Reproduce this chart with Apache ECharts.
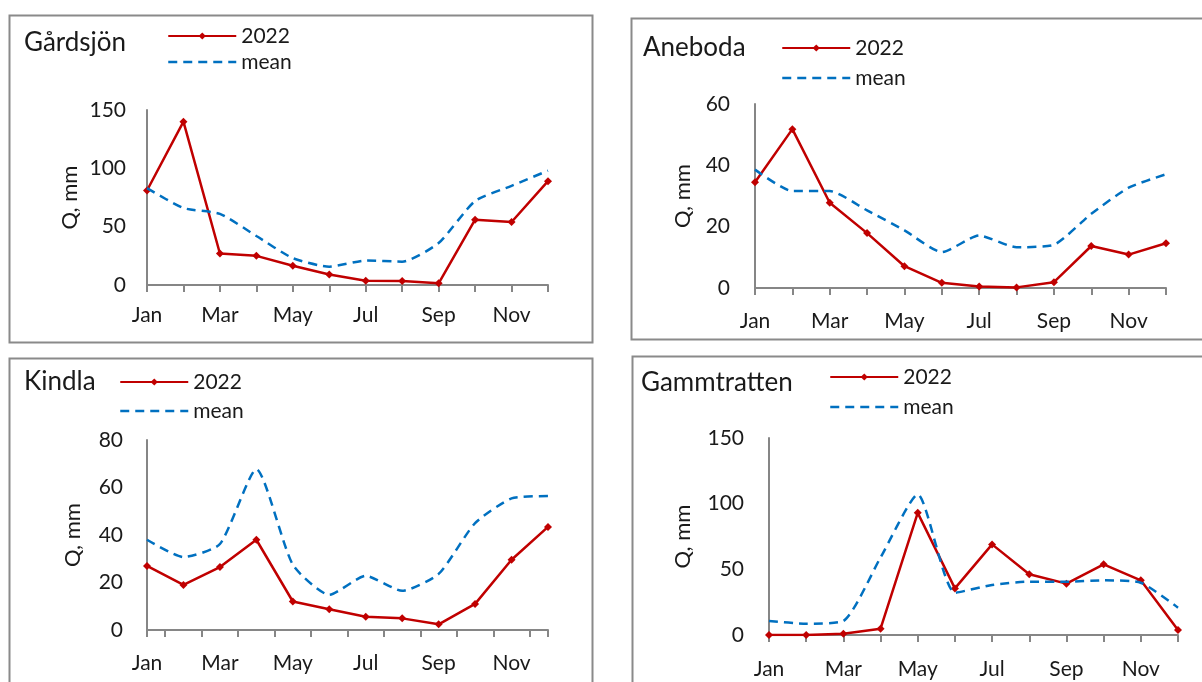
<!DOCTYPE html>
<html>
<head>
<meta charset="utf-8">
<script src="https://cdn.jsdelivr.net/npm/echarts@6/dist/echarts.min.js"></script>
<style>
html,body{margin:0;padding:0;background:#fff;}
#chart{width:1202px;height:682px;}
</style>
</head>
<body>
<div id="chart"></div>
<script>
// ---------- DATA ----------
const months = ['Jan','Feb','Mar','Apr','May','Jun','Jul','Aug','Sep','Oct','Nov','Dec'];
const siteNames = ['Gårdsjön','Aneboda','Kindla','Gammtratten'];
const seriesNames = ['2022','mean'];
const yAxisName = 'Q, mm';

const gardsjon2022 = [81, 140, 27, 25, 16.5, 9, 3.7, 3.4, 1.4, 56, 54, 89];
const gardsjonMean = [83, 66, 61, 42, 23, 15.7, 21, 20, 36, 72, 85, 98];

const aneboda2022 = [34.5, 51.8, 27.8, 17.9, 7.1, 1.7, 0.5, 0.2, 1.9, 13.7, 10.9, 14.6];
const anebodaMean = [38.6, 31.6, 31.6, 25.3, 18.8, 11.7, 17.1, 13.3, 14.1, 24.2, 32.7, 37.1];

const kindla2022 = [27, 19, 26.5, 38, 12, 8.7, 5.6, 4.9, 2.4, 11, 29.6, 43.4];
const kindlaMean = [38, 30.7, 36.2, 67.7, 27.5, 14.8, 22.8, 16.5, 23.6, 45, 55.4, 56.4];

const gammtratten2022 = [0, 0, 1, 4.8, 93, 35.5, 69, 46.2, 39.1, 53.8, 41.6, 3.8];
const gammtrattenMean = [10.7, 8.6, 10.7, 59, 107, 32.2, 38.1, 40.6, 40.6, 41.6, 39.8, 20.8];

const yMaxes = [150, 60, 80, 150];
const yIntervals = [50, 20, 20, 50];

// ---------- LAYOUT ----------
const FONT = 'Lato, "Liberation Sans", sans-serif';
const RED = '#C00000', BLUE = '#0070C0', AXIS = '#868686', TXT = '#1a1a1a';
const panels = [
  {box:[9.5,15.5,583,327], grid:{left:147,top:110,width:401,height:175}, title:[24,43], legend:[167,36,26], nameGap:66, labMargin:20, yLabMargin:21, midTicks:false,
   d:[gardsjon2022, gardsjonMean]},
  {box:[631.5,18.5,600,321], grid:{left:755,top:104,width:411,height:184}, title:[643,48], legend:[781,48,30], nameGap:61, labMargin:23, yLabMargin:25, midTicks:false,
   d:[aneboda2022, anebodaMean]},
  {box:[9.5,358.5,583,400], grid:{left:147,top:440,width:401,height:190}, title:[24,382], legend:[119,382,29], nameGap:63, labMargin:23, yLabMargin:24, midTicks:true,
   d:[kindla2022, kindlaMean]},
  {box:[632.5,356.5,600,400], grid:{left:769,top:438,width:409,height:197}, title:[641,383], legend:[829,377,30], nameGap:75, labMargin:24, yLabMargin:25, midTicks:false,
   d:[gammtratten2022, gammtrattenMean]}
];

const grids = [], xAxes = [], yAxes = [], series = [], legends = [], graphics = [];
const axisLineStyle = {color: AXIS, width: 2};

panels.forEach((p, i) => {
  grids.push(Object.assign({outerBoundsMode:'none', containLabel:false}, p.grid));
  xAxes.push({
    type:'category', gridIndex:i, data:months, boundaryGap:false,
    axisLine:{show:true, onZero:false, lineStyle:axisLineStyle},
    axisTick:{show:!p.midTicks, interval:0, length:7, lineStyle:axisLineStyle},
    axisLabel:{interval:1, margin:p.labMargin, fontSize:21, fontFamily:FONT, color:TXT},
    splitLine:{show:false}
  });
  yAxes.push({
    type:'value', gridIndex:i, min:0, max:yMaxes[i], interval:yIntervals[i],
    axisLine:{show:true, lineStyle:axisLineStyle},
    axisTick:{show:false}, splitLine:{show:false},
    axisLabel:{margin:p.yLabMargin, fontSize:21, fontFamily:FONT, color:TXT},
    name:yAxisName, nameLocation:'middle', nameGap:p.nameGap,
    nameTextStyle:{fontSize:22, fontFamily:FONT, color:TXT}
  });
  series.push({
    name:seriesNames[0], type:'line', xAxisIndex:i, yAxisIndex:i, data:p.d[0],
    symbol:'diamond', symbolSize:8, showSymbol:true,
    lineStyle:{color:RED, width:2.5}, itemStyle:{color:RED}, z:3, animation:false
  });
  series.push({
    name:seriesNames[1], type:'line', xAxisIndex:i, yAxisIndex:i, data:p.d[1],
    symbol:'none', smooth:0.2,
    lineStyle:{color:BLUE, width:2.5, type:[9,6]}, itemStyle:{color:BLUE}, z:4, animation:false
  });
  legends.push({
    orient:'vertical', left:p.legend[0], top:p.legend[1]-10.5, padding:0,
    itemWidth:68, itemHeight:9, itemGap:p.legend[2]-21,
    data:[{name:seriesNames[0]}, {name:seriesNames[1], itemStyle:{opacity:0}, lineStyle:{width:2.5, type:[9,6], color:BLUE}}],
    selectedMode:false,
    textStyle:{fontSize:21, fontFamily:FONT, color:TXT, lineHeight:21}
  });
  graphics.push({
    type:'rect', z:-1, silent:true,
    shape:{x:p.box[0], y:p.box[1], width:p.box[2], height:p.box[3]},
    style:{fill:'none', stroke:'#8a8a8a', lineWidth:2}
  });
  graphics.push({
    type:'text', silent:true, x:p.title[0], y:p.title[1],
    style:{text:siteNames[i], font:'26px ' + FONT, fill:TXT, verticalAlign:'middle', align:'left'}
  });
});

// Kindla: ticks between months plus both ends, via a hidden value axis over the same grid
(function(){
  const n = months.length;
  const vals = [0];
  for (let k = 0; k < n - 1; k++) vals.push(k + 0.5);
  vals.push(n - 1);
  xAxes.push({
    type:'value', gridIndex:2, min:0, max:n-1, position:'bottom',
    axisLine:{show:false}, axisLabel:{show:false}, splitLine:{show:false},
    axisTick:{show:true, length:7, lineStyle:axisLineStyle, customValues:vals}
  });
})();

const chart = echarts.init(document.getElementById('chart'), null, {renderer:'canvas'});
chart.setOption({
  backgroundColor:'#fff',
  animation:false,
  grid:grids, xAxis:xAxes, yAxis:yAxes, series:series, legend:legends,
  graphic:graphics
});
</script>
</body>
</html>
